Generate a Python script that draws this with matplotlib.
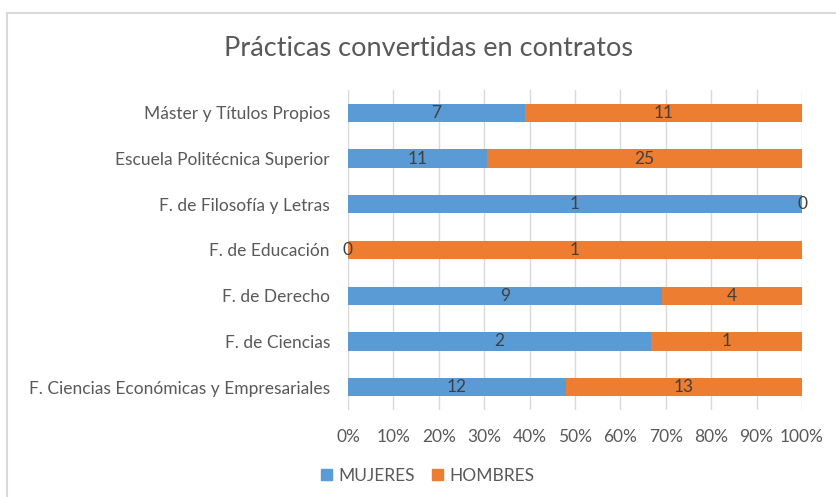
import matplotlib
matplotlib.use("Agg")
import matplotlib.pyplot as plt
from matplotlib.lines import Line2D
import numpy as np

categories = ["Máster y Títulos Propios", "Escuela Politécnica Superior",
              "F. de Filosofía y Letras", "F. de Educación", "F. de Derecho",
              "F. de Ciencias", "F. Ciencias Económicas y Empresariales"]
mujeres = [7, 11, 1, 0, 9, 2, 12]
hombres = [11, 25, 0, 1, 4, 1, 13]
xticks = [0, 10, 20, 30, 40, 50, 60, 70, 80, 90, 100]
title = "Prácticas convertidas en contratos"

BLUE = "#5B9BD5"
ORANGE = "#ED7D31"
TXT = "#595959"
GRID = "#D9D9D9"
FS = 12.5

plt.rcParams['font.family'] = ['Lato', 'DejaVu Sans']

fig = plt.figure(figsize=(8.37, 4.97), dpi=100)
W, H = 837, 497
ax = fig.add_axes([348 / W, 1 - 410 / H, (802 - 348) / W, 320 / H])

m = np.array(mujeres, float)
h = np.array(hombres, float)
tot = m + h
mp = m / tot * 100
hp = h / tot * 100
y = np.arange(len(categories))

ax.barh(y, mp, height=0.4, color=BLUE, zorder=3)
ax.barh(y, hp, left=mp, height=0.4, color=ORANGE, zorder=3)

for i in range(len(categories)):
    ax.text(mp[i] / 2, y[i], str(mujeres[i]), ha="center", va="center",
            fontsize=FS, color="#404040", zorder=4)
    ax.text(mp[i] + hp[i] / 2, y[i], str(hombres[i]), ha="center", va="center",
            fontsize=FS, color="#404040", zorder=4)

ax.set_xlim(0, 100)
ax.set_ylim(len(categories) - 0.5, -0.5)
ax.set_yticks(y)
ax.set_yticklabels(categories, fontsize=FS, color=TXT)
ax.set_xticks(xticks)
ax.set_xticklabels([f"{t}%" for t in xticks], fontsize=FS, color=TXT)
ax.tick_params(axis="both", length=0)
ax.tick_params(axis="y", pad=13)
ax.tick_params(axis="x", pad=14)
ax.grid(axis="x", color=GRID, linewidth=1, zorder=0)
for s in ax.spines.values():
    s.set_visible(False)

fig.text(0.5 * (222 + 635) / W, 1 - 48 / H, title, ha="center", va="center",
         fontsize=19.5, color=TXT)

handles = [plt.Rectangle((0, 0), 1, 1, color=BLUE), plt.Rectangle((0, 0), 1, 1, color=ORANGE)]
fig.legend(handles, ["MUJERES", "HOMBRES"], loc="center", bbox_to_anchor=(428 / W, 1 - 476 / H),
           ncol=2, frameon=False, fontsize=FS, labelcolor=TXT, handlelength=0.6,
           handleheight=0.6, handletextpad=0.4, columnspacing=1.0)

fig.add_artist(Line2D([7 / W, 7 / W], [0, 1 - 13 / H], transform=fig.transFigure, color=GRID, lw=1.5))
fig.add_artist(Line2D([7 / W, 1], [1 - 13 / H, 1 - 13 / H], transform=fig.transFigure, color=GRID, lw=1.5))

fig.savefig("out.png", dpi=100)
